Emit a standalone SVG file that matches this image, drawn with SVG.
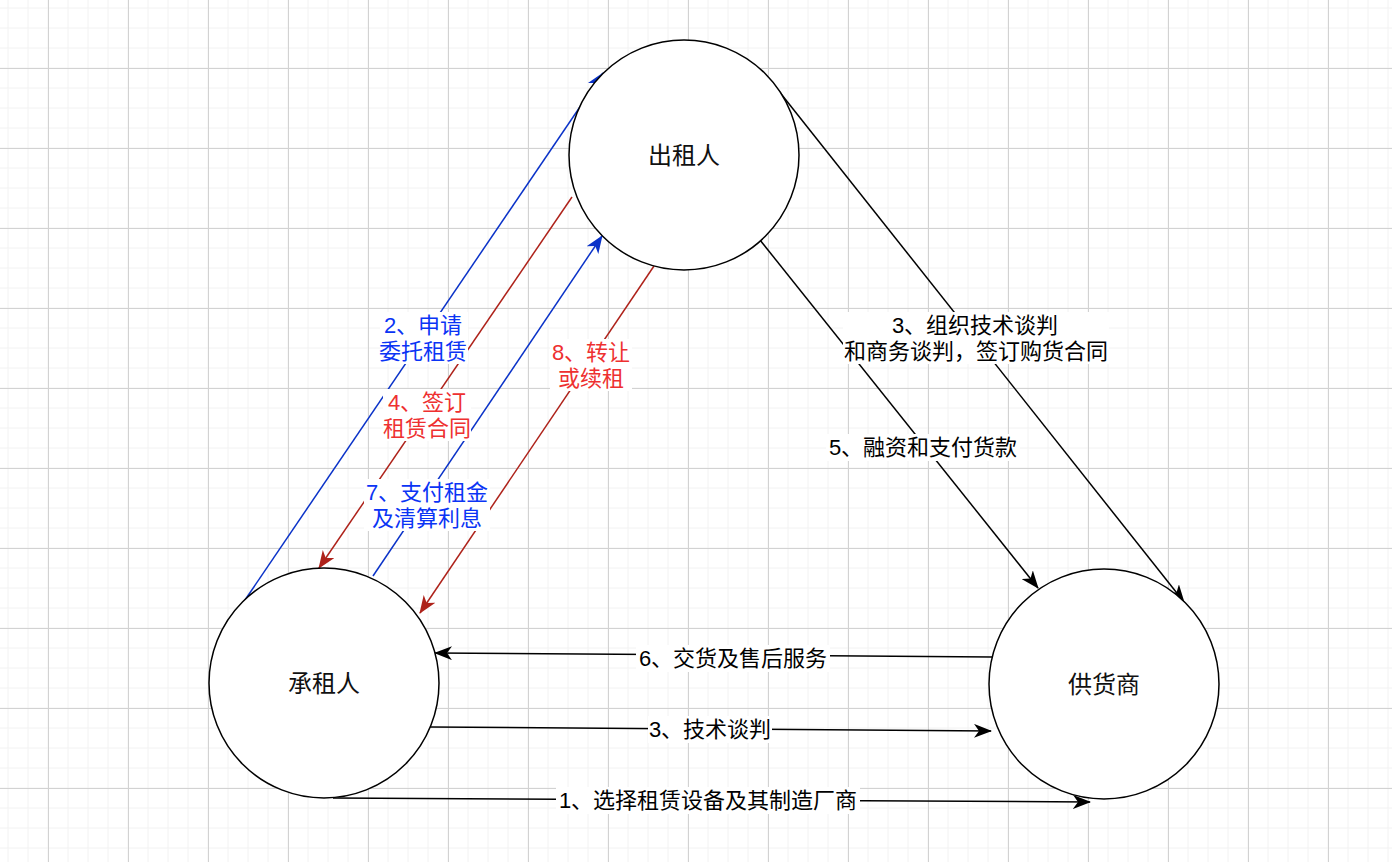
<svg xmlns="http://www.w3.org/2000/svg" width="1392" height="862" viewBox="0 0 1392 862">
<style>
.node{fill:#fff;stroke:#000;stroke-width:1.5}
.ntxt{font-family:"Liberation Sans","Noto Sans CJK SC",sans-serif;font-size:24px;fill:#111;text-anchor:middle}
.lbl{font-family:"Liberation Sans","Noto Sans CJK SC",sans-serif;font-size:22px;text-anchor:middle}
.bg{fill:#fff}
.k{stroke:#000;stroke-width:1.5;fill:none;marker-end:url(#ak)}
.b{stroke:#0a32c8;stroke-width:1.5;fill:none;marker-end:url(#ab)}
.r{stroke:#ae221a;stroke-width:1.5;fill:none;marker-end:url(#ar)}
.tk{fill:#000}.tb{fill:#0a34f5}.tr{fill:#ee3030}
</style>
<defs>
<pattern id="grid" patternUnits="userSpaceOnUse" x="0" y="0" width="80" height="80">
<path d="M8 0V80M28 0V80M48 0V80M68 0V80M0 8H80M0 28H80M0 48H80M0 68H80" stroke="#f2f2f2" stroke-width="1" fill="none"/>
<path d="M48.5 0V80M0 68.5H80" stroke="#d2d2d2" stroke-width="1" fill="none"/>
</pattern>
<marker id="ak" viewBox="0 0 18 14" refX="17" refY="7" markerWidth="18" markerHeight="14" orient="auto" markerUnits="userSpaceOnUse"><path d="M0,0 L18,7 L0,14 L5,7 Z" fill="#000"/></marker>
<marker id="ab" viewBox="0 0 18 14" refX="17" refY="7" markerWidth="18" markerHeight="14" orient="auto" markerUnits="userSpaceOnUse"><path d="M0,0 L18,7 L0,14 L5,7 Z" fill="#0a32c8"/></marker>
<marker id="ar" viewBox="0 0 18 14" refX="17" refY="7" markerWidth="18" markerHeight="14" orient="auto" markerUnits="userSpaceOnUse"><path d="M0,0 L18,7 L0,14 L5,7 Z" fill="#ae221a"/></marker>
</defs>
<rect width="1392" height="862" fill="#fff"/>
<rect width="1392" height="862" fill="url(#grid)"/>

<g id="connectors">
<path class="b" d="M245,600 L603,73"/>
<path class="r" d="M572,197 L319,568"/>
<path class="b" d="M373,576 L602,236"/>
<path class="r" d="M654,266 L420,613"/>
<path class="k" d="M778,90 L1184,602"/>
<path class="k" d="M760,240 L1038,588"/>
<path class="k" d="M992,657 L435,653"/>
<path class="k" d="M430,727 L991,731"/>
<path class="k" d="M333,798 L1090,802"/>
</g>

<g id="labels">
<rect class="bg" x="380" y="312" width="88" height="52"/>
<text class="lbl tb" x="423" y="333">2、申请</text>
<text class="lbl tb" x="423" y="359">委托租赁</text>
<rect class="bg" x="383" y="389" width="88" height="52"/>
<text class="lbl tr" x="427" y="410">4、签订</text>
<text class="lbl tr" x="427" y="436">租赁合同</text>
<rect class="bg" x="364" y="479" width="126" height="52"/>
<text class="lbl tb" x="427" y="500">7、支付租金</text>
<text class="lbl tb" x="427" y="526">及清算利息</text>
<rect class="bg" x="550" y="339" width="82" height="52"/>
<text class="lbl tr" x="591" y="360">8、转让</text>
<text class="lbl tr" x="591" y="386">或续租</text>
<rect class="bg" x="843" y="312" width="266" height="52"/>
<text class="lbl tk" x="975" y="333">3、组织技术谈判</text>
<text class="lbl tk" x="976" y="359">和商务谈判，签订购货合同</text>
<rect class="bg" x="826" y="434" width="194" height="27"/>
<text class="lbl tk" x="923" y="455">5、融资和支付货款</text>
<rect class="bg" x="636" y="645" width="194" height="27"/>
<text class="lbl tk" x="733" y="666">6、交货及售后服务</text>
<rect class="bg" x="648" y="716" width="124" height="27"/>
<text class="lbl tk" x="710" y="737">3、技术谈判</text>
<rect class="bg" x="556" y="787" width="304" height="27"/>
<text class="lbl tk" x="708" y="808">1、选择租赁设备及其制造厂商</text>
</g>

<g id="node-lessor">
<circle class="node" cx="684" cy="155" r="115"/>
<text class="ntxt" x="684" y="164">出租人</text>
</g>
<g id="node-lessee">
<circle class="node" cx="324" cy="683" r="115"/>
<text class="ntxt" x="324" y="692">承租人</text>
</g>
<g id="node-supplier">
<circle class="node" cx="1104" cy="684" r="115"/>
<text class="ntxt" x="1104" y="693">供货商</text>
</g>
</svg>
